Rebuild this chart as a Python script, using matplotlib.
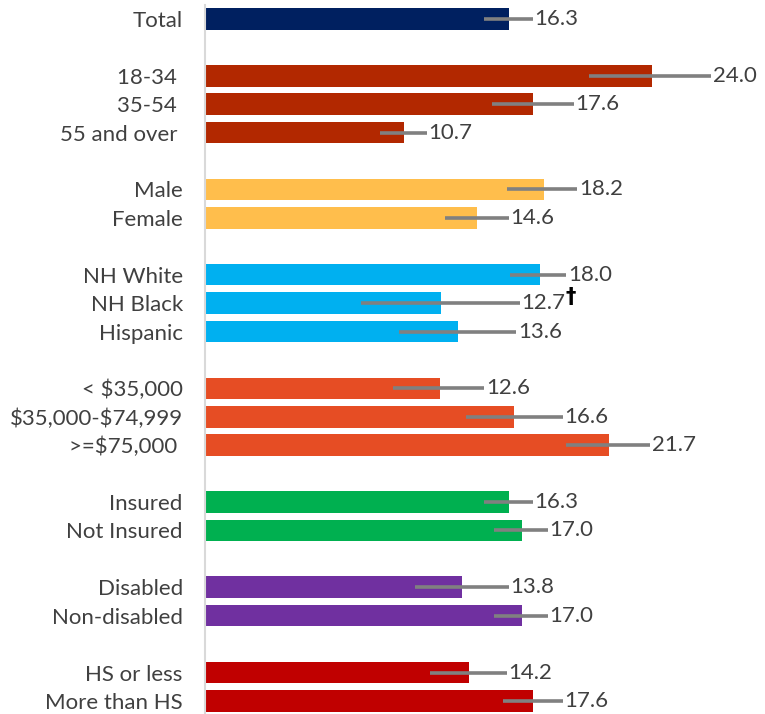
import matplotlib.pyplot as plt

# rows, top to bottom; None = blank spacer row
labels = ['Total', None,
          '18-34 ', '35-54 ', '55 and over ', None,
          'Male', 'Female', None,
          'NH White', 'NH Black', 'Hispanic', None,
          '< $35,000', '$35,000-$74,999', '>=$75,000 ', None,
          'Insured', 'Not Insured', None,
          'Disabled', 'Non-disabled', None,
          'HS or less', 'More than HS']
values = [16.3, None, 24.0, 17.6, 10.7, None, 18.2, 14.6, None,
          18.0, 12.7, 13.6, None, 12.6, 16.6, 21.7, None,
          16.3, 17.0, None, 13.8, 17.0, None, 14.2, 17.6]
ci_low = [15.0, None, 20.6, 15.4, 9.4, None, 16.2, 12.9, None,
          16.4, 8.4, 10.4, None, 10.1, 14.0, 19.4, None,
          15.0, 15.5, None, 11.3, 15.5, None, 12.1, 16.0]
ci_high = [17.6, None, 27.2, 19.8, 11.9, None, 20.0, 16.3, None,
           19.4, 16.9, 16.7, None, 15.0, 19.2, 23.9, None,
           17.6, 18.4, None, 16.3, 18.4, None, 16.2, 19.2]
colors = ['#002060', None, '#B22800', '#B22800', '#B22800', None,
          '#FFBE4C', '#FFBE4C', None,
          '#00B0F0', '#00B0F0', '#00B0F0', None,
          '#E64D24', '#E64D24', '#E64D24', None,
          '#00B050', '#00B050', None,
          '#7030A0', '#7030A0', None,
          '#C00000', '#C00000']
dagger_row = 'NH Black'

plt.rcParams['font.family'] = ['Lato', 'DejaVu Sans']
plt.rcParams['text.parse_math'] = False

fig = plt.figure(figsize=(7.65, 7.14), dpi=100)
ax = fig.add_axes([205 / 765, 0, 1 - 205 / 765, 1 - 5 / 714])

rows = [i for i, v in enumerate(values) if v is not None]
vals = [values[i] for i in rows]
lo = [values[i] - ci_low[i] for i in rows]
hi = [ci_high[i] - values[i] for i in rows]

ax.barh(rows, vals, height=0.76, color=[colors[i] for i in rows], zorder=2)
ax.errorbar(vals, rows, xerr=[lo, hi], fmt='none', ecolor='#808080',
            elinewidth=2.6, capsize=0, zorder=3)

for i in rows:
    t = ax.text(ci_high[i] + 0.1, i, f'{values[i]:.1f}', va='center', ha='left',
                fontsize=16, color='#404040', zorder=4)
    if labels[i] == dagger_row:
        # dagger sits up against the label, like a superscript
        ax.annotate('\u2020', xy=(1, 0.8), xycoords=t, ha='left', va='center',
                    fontsize=15, fontweight='bold', color='black',
                    family='DejaVu Sans')

ax.set_yticks(rows)
ax.set_yticklabels([labels[i] for i in rows], fontsize=16, color='#404040')
ax.tick_params(axis='y', length=0, pad=16)
ax.set_xticks([])
ax.set_xlim(0, 560 / 18.62)
ax.set_ylim(24.46, -0.49)
for s in ['top', 'right', 'bottom']:
    ax.spines[s].set_visible(False)
ax.spines['left'].set_color('#D9D9D9')
ax.spines['left'].set_linewidth(1.5)

fig.savefig('out.png', dpi=100)
